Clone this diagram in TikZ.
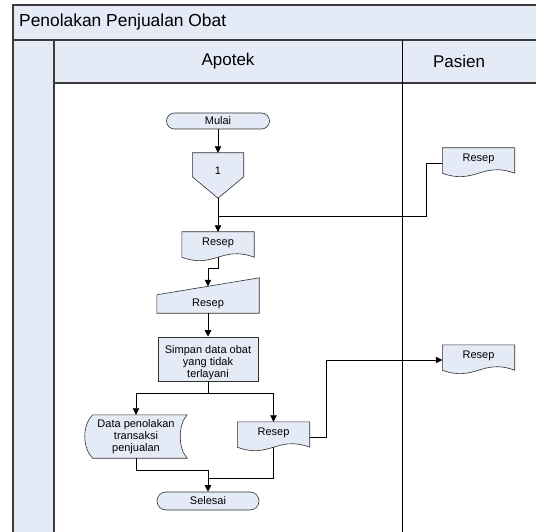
\documentclass[tikz,border=0pt]{standalone}
\usepackage{fontspec}
\setmainfont{Liberation Sans}
\usetikzlibrary{arrows.meta,calc,positioning}
\definecolor{LaneFill}{HTML}{E4EBF6}
\definecolor{LaneLine}{HTML}{3C3C3C}
\definecolor{ShapeLine}{HTML}{303030}
\pgfdeclarelayer{lanes}
\pgfdeclarelayer{outlines}
\pgfsetlayers{lanes,outlines,main}
\tikzset{
  every node/.style={font=\fontsize{11}{11.7}\selectfont, text=black},
  lanehead/.style={fill=LaneFill, draw=LaneLine, line width=1.2pt},
  lanebody/.style={fill=white, draw=LaneLine, line width=1.2pt},
  laneedge/.style={draw=LaneLine, line width=2pt},
  divider/.style={draw=black, line width=1.6pt},
  shapeline/.style={draw=ShapeLine, fill=LaneFill, line width=0.6pt},
  holder/.style={inner sep=0pt},
  terminal/.style={shapeline, rounded corners=8pt, minimum width=103pt, minimum height=16pt, inner sep=0pt},
  process/.style={shapeline, minimum width=100pt, minimum height=44pt, inner sep=0pt},
  docholder/.style={holder, minimum width=72pt, minimum height=30pt, text height=8pt, text depth=11pt},
  flow/.style={draw=black, line width=0.7pt, -{Triangle[length=6.5pt,width=6.5pt]}},
  joint/.style={draw=black, line width=0.7pt},
}
\newcommand{\docoutline}[1]{%
  \draw[shapeline] ($(#1.south west)+(0,-5)$) -- (#1.north west) -- (#1.north east)
    -- ($(#1.south east)+(0,-5)$)
    .. controls ($(#1.south east)!0.45!(#1.south west)+(0,-17)$)
    and ($(#1.south west)!0.45!(#1.south east)+(0,7)$) .. ($(#1.south west)+(0,-5)$) -- cycle;}

\begin{document}
\begin{tikzpicture}[x=1pt,y=-1pt]
  \useasboundingbox (0,0) rectangle (536,532);

  % Swimlane frame (runs on past the right and bottom edge)
  \begin{pgfonlayer}{lanes}
    \fill[white] (0,0) rectangle (536,532);
    \draw[lanehead] (13,5) rectangle (548,40);
    \draw[lanehead] (13,40) rectangle (54,548);
    \draw[lanehead] (54,40) rectangle (548,83);
    \draw[lanebody] (54,83) rectangle (548,548);
    \draw[laneedge] (13,548) -- (13,5) -- (548,5);
    \draw[divider] (402.5,40) -- (402.5,548);
  \end{pgfonlayer}

  % Lane titles
  \node[anchor=west, inner sep=0pt, font=\fontsize{17.4}{20}\selectfont] (judul) at (19,22.5) {Penolakan Penjualan Obat};
  \node[font=\fontsize{17}{20}\selectfont] (apotek) at (228,61.5) {Apotek};
  \node[font=\fontsize{17}{20}\selectfont] (pasien) at (459,61.5) {Pasien};

  % Apotek lane
  \node[terminal] (mulai) at (218,121) {Mulai};
  \node[holder, minimum width=51pt, minimum height=45pt, text height=8pt, text depth=9pt] (konektor) at (218,175.5) {1};
  \node[docholder] (resep1) at (218,247) {Resep};
  \node[holder, minimum width=102pt, minimum height=18pt] (input) at (208,304) {Resep};
  \node[process] (simpan) at (208,359) {\raisebox{-4pt}[\height][\depth]{\begin{tabular}{@{}c@{}}Simpan data obat\\yang tidak\\terlayani\end{tabular}}};
  \node[holder, align=center, minimum width=102pt, minimum height=43pt] (data) at (136,436.5) {Data penolakan\\transaksi\\penjualan};
  \node[docholder] (resep3) at (273.5,437) {Resep};
  \node[terminal, minimum width=102pt, minimum height=18pt, rounded corners=9pt] (selesai) at (208,501) {Selesai};

  % Pasien lane
  \node[docholder] (resep2) at (478.5,163) {Resep};
  \node[docholder] (resep4) at (478.5,360) {Resep};

  % Shape outlines behind the texts
  \begin{pgfonlayer}{outlines}
    \draw[shapeline] (konektor.north west) -- (konektor.north east)
      -- ($(konektor.north east)+(0,24)$) -- (konektor.south)
      -- ($(konektor.north west)+(0,24)$) -- cycle;
    \docoutline{resep1}
    \docoutline{resep2}
    \docoutline{resep3}
    \docoutline{resep4}
    \draw[shapeline] (input.south west) -- (input.north west)
      -- ($(input.north east)+(0,-17)$) -- (input.south east) -- cycle;
    \draw[shapeline] ($(data.north west)+(8,0)$) -- (data.north east)
      .. controls ($(data.north east)+(-9.3,10)$) and ($(data.south east)+(-9.3,-10)$) .. (data.south east)
      -- ($(data.south west)+(8,0)$)
      .. controls ($(data.south west)+(-2.7,-10)$) and ($(data.north west)+(-2.7,10)$) .. ($(data.north west)+(8,0)$) -- cycle;
  \end{pgfonlayer}

  % Connectors
  \coordinate (gabung) at ($(konektor.south)!0.55!(resep1.north)$);
  \coordinate (masuk) at ($(input.north)+(0,-8.5)$);
  \draw[flow] (mulai.south) -- (konektor.north);
  \draw[flow] (konektor.south) -- (resep1.north);
  \draw[joint] (resep2.west) -- ++(-16,0) |- (gabung);
  \draw[flow] ($(resep1.south)+(0,-5)$) -- ++(0,11) -| (masuk);
  \draw[flow] (input.south) -- (simpan.north);
  \draw[flow] (simpan.south) -- ++(0,12) -| (data.north);
  \draw[flow] (simpan.south) -- ++(0,12) -| (resep3.north);
  \draw[flow] (resep3.east) -- ++(17,0) |- (resep4.west);
  \draw[joint] ($(resep3.south)+(0,-5)$) |- ($(selesai.north)+(0,-13)$);
  \draw[flow] (data.south) -- ++(0,12) -| (selesai.north);
\end{tikzpicture}
\end{document}
